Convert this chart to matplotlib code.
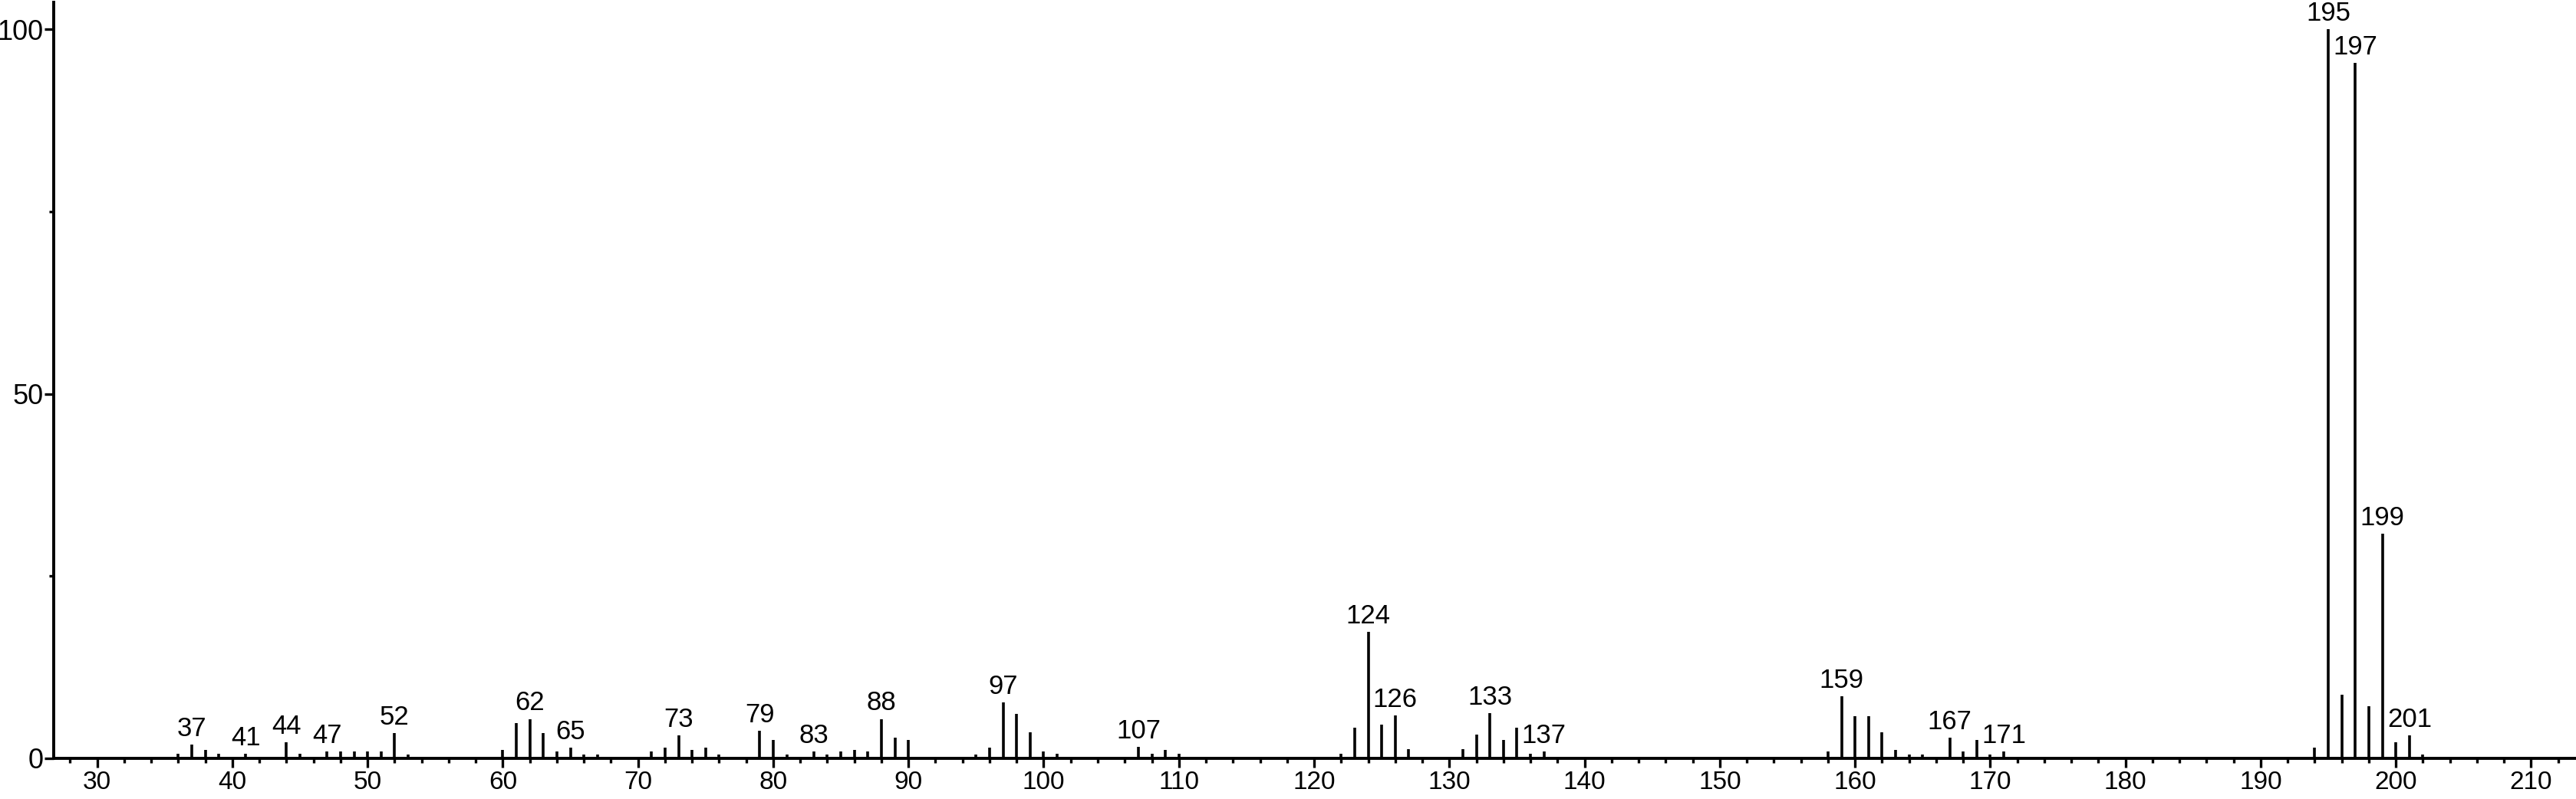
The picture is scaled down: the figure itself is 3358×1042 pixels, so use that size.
import matplotlib
matplotlib.use("Agg")
import matplotlib.pyplot as plt
from matplotlib.ticker import MultipleLocator

plt.rcParams['font.family'] = ['Liberation Sans', 'DejaVu Sans']

# m/z values and relative intensities
mz = [36, 37, 38, 39, 41, 44, 45, 47, 48, 49, 50, 51, 52, 53,
      60, 61, 62, 63, 64, 65, 66, 67,
      71, 72, 73, 74, 75, 76, 79, 80, 81, 83, 84, 85, 86, 87, 88, 89, 90,
      95, 96, 97, 98, 99, 100, 101, 107, 108, 109, 110,
      122, 123, 124, 125, 126, 127, 131, 132, 133, 134, 135, 136, 137,
      158, 159, 160, 161, 162, 163, 164, 165, 167, 168, 169, 170, 171,
      194, 195, 196, 197, 198, 199, 200, 201, 202]
intensity = [0.6, 1.9, 1.2, 0.6, 0.6, 2.2, 0.6, 0.9, 0.9, 0.9, 0.9, 0.9, 3.5, 0.5,
             1.2, 4.8, 5.4, 3.5, 0.9, 1.5, 0.5, 0.5,
             0.9, 1.5, 3.15, 1.15, 1.5, 0.5, 3.8, 2.5, 0.5, 0.9, 0.5, 0.9, 1.2, 0.9, 5.4, 2.8, 2.5,
             0.5, 1.5, 7.7, 6.1, 3.6, 0.95, 0.6, 1.6, 0.6, 1.2, 0.6,
             0.6, 4.2, 17.3, 4.6, 5.85, 1.26, 1.26, 3.25, 6.2, 2.55, 4.2, 0.6, 0.95,
             0.9, 8.5, 5.8, 5.8, 3.6, 1.2, 0.56, 0.56, 2.8, 0.9, 2.5, 0.56, 0.9,
             1.5, 100, 8.75, 95.4, 7.1, 30.8, 2.2, 3.15, 0.5]

# peaks that carry a label
labeled = [37, 41, 44, 47, 52, 62, 65, 73, 79, 83, 88, 97, 107,
           124, 126, 133, 137, 159, 167, 171, 195, 197, 199, 201]

fig = plt.figure(figsize=(33.58, 10.42), dpi=100)
ax = fig.add_axes([0.0209, 0.0509, 0.979, 0.9461])

ax.vlines(mz, 0, intensity, color='black', linewidth=2.6)

lookup = dict(zip(mz, intensity))
for m in labeled:
    ax.annotate(str(m), xy=(m, lookup[m]), xytext=(0, 3), textcoords='offset points',
                ha='center', va='bottom', fontsize=25)

ax.set_xlim(26.8, 213.3)
ax.set_ylim(0, 103.7)

ax.xaxis.set_major_locator(MultipleLocator(10))
ax.xaxis.set_minor_locator(MultipleLocator(2))
ax.yaxis.set_major_locator(MultipleLocator(50))
ax.yaxis.set_minor_locator(MultipleLocator(25))

ax.spines['top'].set_visible(False)
ax.spines['right'].set_visible(False)
ax.spines['left'].set_linewidth(2.8)
ax.spines['bottom'].set_linewidth(2.8)

ax.tick_params(axis='both', which='major', length=8.6, width=2.4, direction='out')
ax.tick_params(axis='both', which='minor', length=4.3, width=2.4, direction='out')
ax.tick_params(axis='x', which='major', labelsize=24, pad=3)
ax.tick_params(axis='y', which='major', labelsize=26, pad=1)

fig.savefig('out.png', dpi=100)
